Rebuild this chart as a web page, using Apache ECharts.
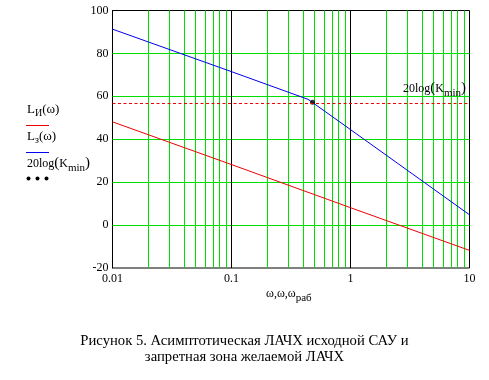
<!DOCTYPE html>
<html>
<head>
<meta charset="utf-8">
<script src="https://cdn.jsdelivr.net/npm/echarts@6/dist/echarts.min.js"></script>
<style>
html,body{margin:0;padding:0;background:#fff;}
#chart{width:489px;height:380px;}
</style>
</head>
<body>
<div id="chart"></div>
<script>
// ---- data ----
var xTickValues = [0.01, 0.1, 1, 10];
var xTickLabels = ['0.01', '0.1', '1', '10'];
var yTickLabels = ['-20', '0', '20', '40', '60', '80', '100'];
// L_И(ω) (red)
var omegaRed = [0.01, 0.1, 1, 10];
var lRed = [48.1, 28.2, 8.1, -11.8];
// L_з(ω) (blue)
var omegaBlue = [0.01, 0.1, 0.44, 1, 10];
var lBlue = [91.3, 71.5, 58.6, 44.5, 4.8];
// 20log(Kmin) level and working point
var kminLevel = 56.8;
var omegaWork = [0.48];
var kminPoint = [57.3];
// grid line positions
var minorX = [0.02,0.03,0.04,0.05,0.06,0.07,0.08,0.09,0.2,0.3,0.4,0.5,0.6,0.7,0.8,0.9,2,3,4,5,6,7,8,9];
var majorX = [0.1, 1];
var gridY = [0, 20, 40, 60, 80];

var SERIF = '"Liberation Serif","Times New Roman",serif';
var GREEN = '#00e000';

function pairs(xs, ys){ return xs.map(function(x,i){ return [x, ys[i]]; }); }

function vLines(color){
  return function(params, api){
    var p = api.coord([api.value(0), 1]);
    var cs = params.coordSys;
    var x = Math.round(p[0] - 0.5) + 0.5;
    return {type: 'line', shape: {x1: x, y1: cs.y, x2: x, y2: cs.y + cs.height},
            style: {stroke: color, lineWidth: 1}, silent: true};
  };
}
function hLines(color){
  return function(params, api){
    var p = api.coord([1, api.value(0)]);
    var cs = params.coordSys;
    var y = Math.round(p[1] - 0.5) + 0.5;
    return {type: 'line', shape: {x1: cs.x, y1: y, x2: cs.x + cs.width, y2: y},
            style: {stroke: color, lineWidth: 1}, silent: true};
  };
}

var chart = echarts.init(document.getElementById('chart'), null, {renderer:'canvas'});
var option = {
  animation: false,
  backgroundColor: '#fff',
  grid: {left: 112.5, right: 19.5, top: 10.5, bottom: 112, show: true, borderColor: '#000', borderWidth: 1, backgroundColor: 'transparent'},
  xAxis: {
    type: 'log', logBase: 10, min: 0.01, max: 10,
    axisLine: {show: true, lineStyle: {color: '#000', width: 1}},
    axisTick: {show: false},
    splitLine: {show: false},
    axisLabel: {
      color: '#000', fontFamily: SERIF, fontSize: 12, margin: 5,
      formatter: function(v){
        for (var i=0;i<xTickValues.length;i++){ if (Math.abs(Math.log10(v)-Math.log10(xTickValues[i]))<1e-6) return xTickLabels[i]; }
        return '';
      }
    }
  },
  yAxis: {
    type: 'value', min: -20, max: 100, interval: 20,
    axisLine: {show: true, lineStyle: {color: '#000', width: 1}},
    axisTick: {show: false},
    splitLine: {show: false},
    axisLabel: {
      color: '#000', fontFamily: SERIF, fontSize: 12, margin: 4,
      formatter: function(v, i){ return yTickLabels[i]; }
    }
  },
  series: [
    {type: 'custom', data: minorX.map(function(v){ return [v]; }), renderItem: vLines(GREEN), z: 1, silent: true, encode: {x: 0}},
    {type: 'custom', data: gridY.map(function(v){ return [v]; }), renderItem: hLines(GREEN), z: 1, silent: true, encode: {y: 0}},
    {type: 'custom', data: majorX.map(function(v){ return [v]; }), renderItem: vLines('#000'), z: 1.5, silent: true, encode: {x: 0}},
    {
      type: 'line', data: [], z: 2, silent: true,
      markLine: {
        silent: true, symbol: 'none', label: {show: false}, animation: false,
        lineStyle: {color: '#ee0000', width: 1, type: [3, 2.5]},
        data: [{yAxis: kminLevel}]
      }
    },
    {
      type: 'line', data: pairs(omegaRed, lRed), showSymbol: false, z: 3,
      lineStyle: {color: '#ee0000', width: 1}
    },
    {
      type: 'line', data: pairs(omegaBlue, lBlue), showSymbol: false, z: 3,
      lineStyle: {color: '#0000ee', width: 1}
    },
    {
      type: 'scatter', data: pairs(omegaWork, kminPoint), symbol: 'circle', symbolSize: 5, z: 4,
      itemStyle: {color: '#000'}
    }
  ],
  graphic: [
    // left legend
    {type: 'text', x: 27, y: 103, z: 100, style: {
      text: '{m|L}{s|И}{m|(ω)}', fontFamily: SERIF,
      rich: {m: {fontFamily: SERIF, fontSize: 13, color: '#000', verticalAlign: 'top'},
             s: {fontFamily: SERIF, fontSize: 10, color: '#000', verticalAlign: 'top', padding: [5,0,0,0]}}
    }},
    {type: 'line', z: 100, shape: {x1: 26, y1: 125.5, x2: 49, y2: 125.5}, style: {stroke: '#ee0000', lineWidth: 1}},
    {type: 'text', x: 27, y: 130, z: 100, style: {
      text: '{m|L}{s|з}{m|(ω)}', fontFamily: SERIF,
      rich: {m: {fontFamily: SERIF, fontSize: 13, color: '#000', verticalAlign: 'top'},
             s: {fontFamily: SERIF, fontSize: 10, color: '#000', verticalAlign: 'top', padding: [5,0,0,0]}}
    }},
    {type: 'line', z: 100, shape: {x1: 26, y1: 152.5, x2: 49, y2: 152.5}, style: {stroke: '#0000ee', lineWidth: 1}},
    {type: 'text', x: 27, y: 156, z: 100, style: {
      text: '{m|20log}{p|(}{m|K}{s|min}{p|)}', fontFamily: SERIF,
      rich: {m: {fontFamily: SERIF, fontSize: 12, color: '#000', verticalAlign: 'top', padding: [2,0,0,0]},
             p: {fontFamily: SERIF, fontSize: 15, color: '#000', verticalAlign: 'top'},
             s: {fontFamily: SERIF, fontSize: 11, color: '#000', verticalAlign: 'top', padding: [7,0,0,0]}}
    }},
    {type: 'circle', z: 100, shape: {cx: 28.5, cy: 178.5, r: 2}, style: {fill: '#000'}},
    {type: 'circle', z: 100, shape: {cx: 37.5, cy: 178.5, r: 2}, style: {fill: '#000'}},
    {type: 'circle', z: 100, shape: {cx: 46.5, cy: 178.5, r: 2}, style: {fill: '#000'}},
    // in-plot label
    {type: 'text', x: 403, y: 81, z: 100, style: {
      text: '{m|20log}{p|(}{m|K}{s|min}{p|)}', fontFamily: SERIF,
      rich: {m: {fontFamily: SERIF, fontSize: 12, color: '#000', verticalAlign: 'top', padding: [2,0,0,0]},
             p: {fontFamily: SERIF, fontSize: 15, color: '#000', verticalAlign: 'top'},
             s: {fontFamily: SERIF, fontSize: 11, color: '#000', verticalAlign: 'top', padding: [7,0,0,0]}}
    }},
    // x axis name
    {type: 'text', x: 266, y: 288, z: 100, style: {
      text: '{m|ω,ω,ω}{s|раб}', fontFamily: SERIF,
      rich: {m: {fontFamily: SERIF, fontSize: 12, color: '#000', verticalAlign: 'top'},
             s: {fontFamily: SERIF, fontSize: 11, color: '#000', verticalAlign: 'top', padding: [5,0,0,0]}}
    }},
    // caption
    {type: 'text', x: 244.5, y: 333, z: 100, style: {
      text: 'Рисунок 5. Асимптотическая ЛАЧХ исходной САУ и\nзапретная зона желаемой ЛАЧХ',
      fontFamily: SERIF, fontSize: 14.67, fill: '#000', textAlign: 'center', lineHeight: 16
    }}
  ]
};
chart.setOption(option);
</script>
</body>
</html>
